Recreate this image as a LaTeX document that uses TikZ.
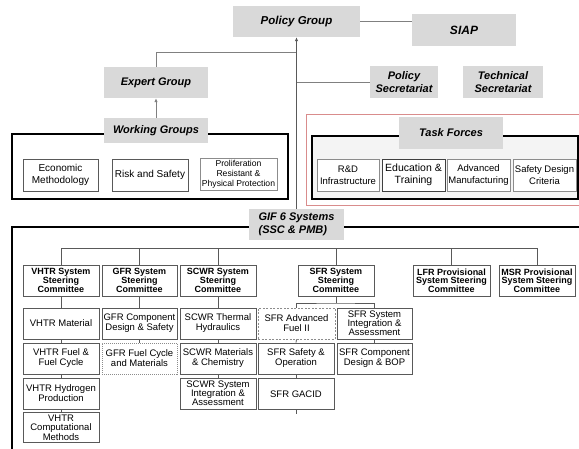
\documentclass[tikz,border=0pt]{standalone}
\usepackage{fontspec}
\setmainfont{Liberation Sans}
\usetikzlibrary{arrows.meta}
\definecolor{lblgray}{HTML}{D9D9D9}
\definecolor{lnegray}{HTML}{808080}
\definecolor{boxedge}{HTML}{595959}
\definecolor{lightedge}{HTML}{8C8C8C}
\definecolor{tfred}{HTML}{D98C8C}
\definecolor{tffill}{HTML}{F4F4F4}
\begin{document}
\begin{tikzpicture}[x=1pt,y=-1pt,
 lbl/.style={fill=lblgray, inner sep=1pt, align=center, font=\bfseries\itshape\fontsize{11}{13}\selectfont},
 box/.style={draw=boxedge, line width=0.7pt, fill=white, inner sep=1pt, align=center, minimum height=31pt, font=\fontsize{9.5}{10}\selectfont},
 lbox/.style={box, draw=lightedge},
 cmte/.style={box, font=\bfseries\fontsize{9}{8.7}\selectfont},
 conn/.style={draw=lnegray, line width=0.8pt},
 tree/.style={draw=boxedge, line width=0.8pt},
 heavy/.style={draw=black, line width=1.6pt},
 upar/.style={-{Latex[length=4pt,width=3.5pt]}},
]
\useasboundingbox (0,0) rectangle (579,448);
\clip (0,0) rectangle (579,448);

% ---------- top level ----------
\node[lbl, minimum width=127pt, minimum height=31pt, font=\bfseries\itshape\fontsize{11.5}{13}\selectfont] (policy) at (296.5,21.5) {Policy Group};
\node[lbl, minimum width=104pt, minimum height=32pt, font=\bfseries\itshape\fontsize{12}{13}\selectfont] (siap) at (464,30) {SIAP};
\node[lbl, minimum width=104pt, minimum height=31pt] (expert) at (156,82.5) {Expert Group};
\node[lbl, minimum width=68pt, minimum height=32pt] (polsec) at (404,82) {Policy\\Secretariat};
\node[lbl, minimum width=80pt, minimum height=32pt] (techsec) at (503,82) {Technical\\Secretariat};

\coordinate (ej) at (296.5,52);
\draw[conn] (policy.east) -- (policy.east -| siap.west);
\draw[conn] (expert.north) |- (ej);
\draw[conn] (polsec.west) -- (polsec.west -| policy.south);

% ---------- working groups ----------
\draw[heavy] (12,134) rectangle (288,199);
\node[lbl, minimum width=104pt, minimum height=25pt] (wg) at (156,130.5) {Working Groups};
\node[box, minimum width=75pt, minimum height=32pt, font=\fontsize{10}{12}\selectfont] (econ) at (60.5,175) {Economic\\Methodology};
\node[box, minimum width=76pt, minimum height=32pt, font=\fontsize{10}{12}\selectfont] (risk) at (150,175) {Risk and Safety};
\node[lbox, minimum width=77pt, minimum height=32pt, font=\fontsize{8.6}{9.8}\selectfont] (prolif) at (238.5,174) {Proliferation\\Resistant \&\\Physical Protection};
\draw[conn, upar] (wg.north) -- (expert.south);

% ---------- task forces ----------
\draw[tfred, line width=0.9pt] (306,114) rectangle (600,205);
\draw[heavy, line width=1.4pt, fill=tffill] (312,136) rectangle (578,199);
\node[lbl, minimum width=104pt, minimum height=32pt] (tf) at (451,133) {Task Forces};
\node[lbox, minimum width=62pt, minimum height=32pt, font=\fontsize{9.5}{12}\selectfont] (rd) at (348,175) {R\&D\\Infrastructure};
\node[box, draw=black!75, minimum width=63pt, minimum height=32pt, font=\fontsize{10.5}{12.5}\selectfont] (edu) at (413.5,175) {Education \&\\Training};
\node[lbox, minimum width=63pt, minimum height=32pt, font=\fontsize{9.5}{12}\selectfont] (adv) at (478.5,175) {Advanced\\Manufacturing};
\node[lbox, minimum width=63pt, minimum height=32pt, font=\fontsize{9.5}{12}\selectfont] (sdc) at (544.5,175) {Safety Design\\Criteria};

% ---------- GIF 6 systems ----------
\draw[heavy, line width=1.5pt] (600,227) -- (12,227) -- (12,460);
\node[lbl, minimum width=95pt, minimum height=31pt, align=left] (gif) at (296.5,224.5) {GIF 6 Systems\\(SSC \& PMB)};
\draw[tree, upar] (gif.north) -- (policy.south);

% committees
\node[cmte, minimum width=76pt] (vhtr) at (61,280.5) {VHTR System\\Steering\\Committee};
\node[cmte, minimum width=75pt] (gfr) at (139.5,280.5) {GFR System\\Steering\\Committee};
\node[cmte, minimum width=76pt] (scwr) at (218,280.5) {SCWR System\\Steering\\Committee};
\node[cmte, minimum width=76pt] (sfr) at (336,280.5) {SFR System\\Steering\\Committee};
\node[cmte, minimum width=77pt] (lfr) at (451.5,280.5) {LFR Provisional\\System Steering\\Committee};
\node[cmte, minimum width=76pt] (msr) at (537,280.5) {MSR Provisional\\System Steering\\Committee};

\coordinate (busL) at (61,248);
\coordinate (busR) at (537,248);
\draw[tree] (busL) -- (busR);
\foreach \c in {vhtr,gfr,scwr,sfr,lfr,msr}{
  \draw[tree] (\c.north) -- (\c.north |- busL);
}

% VHTR column
\node[box, minimum width=76pt] (vmat) at (61,323.5) {VHTR Material};
\node[box, minimum width=76pt] (vfuel) at (61,358.5) {VHTR Fuel \&\\Fuel Cycle};
\node[box, minimum width=76pt] (vhyd) at (61,393.5) {VHTR Hydrogen\\Production};
\node[box, minimum width=76pt, minimum height=30pt, font=\fontsize{9.5}{9.3}\selectfont] (vcomp) at (61,427.5) {VHTR\\Computational\\Methods};
\draw[tree] (vhtr.south) -- (vmat.north);
\draw[tree] (vmat.south) -- (vfuel.north);
\draw[tree] (vfuel.south) -- (vhyd.north);
\draw[tree] (vhyd.south) -- (vcomp.north);

% GFR column
\node[box, minimum width=75pt] (gcomp) at (139.5,323.5) {GFR Component\\Design \& Safety};
\node[box, draw=lightedge, dash pattern=on 1pt off 1pt, minimum width=75pt] (gfuel) at (139.5,358.5) {GFR Fuel Cycle\\and Materials};
\draw[tree] (gfr.south) -- (gcomp.north);
\draw[tree] (gcomp.south) -- (gfuel.north);

% SCWR column
\node[box, minimum width=76pt] (sth) at (218,323.5) {SCWR Thermal\\Hydraulics};
\node[box, minimum width=76pt] (smat) at (218,358.5) {SCWR Materials\\\& Chemistry};
\node[box, minimum width=76pt, font=\fontsize{9.5}{9}\selectfont] (ssys) at (218,393.5) {SCWR System\\Integration \&\\Assessment};
\draw[tree] (scwr.south) -- (sth.north);
\draw[tree] (sth.south) -- (smat.north);
\draw[tree] (smat.south) -- (ssys.north);

% SFR column
\node[box, draw=lightedge, dash pattern=on 2pt off 1.5pt, minimum width=77pt] (fadv) at (296.5,323.5) {SFR Advanced\\Fuel II};
\node[box, minimum width=75pt, font=\fontsize{9.5}{9}\selectfont] (fsys) at (374.5,323.5) {SFR System\\Integration \&\\Assessment};
\node[box, minimum width=76pt] (fsafe) at (296,358.5) {SFR Safety \&\\Operation};
\node[box, minimum width=75pt] (fcomp) at (374.5,358.5) {SFR Component\\Design \& BOP};
\node[box, minimum width=76pt] (fgacid) at (296,394) {SFR GACID};
\coordinate (sfrj) at (336,303);
\coordinate (gtick) at (296,413.5);
\draw[tree] (sfr.south) -- (sfrj);
\draw[tree] (fadv.north) |- (sfrj) -| (fsys.north);
\draw[tree] (fadv.south) -- (fsafe.north);
\draw[tree] (fsys.south) -- (fcomp.north);
\draw[tree] (fsafe.south) -- (fgacid.north);
\draw[tree] (fgacid.south) -- (gtick);
\end{tikzpicture}
\end{document}
